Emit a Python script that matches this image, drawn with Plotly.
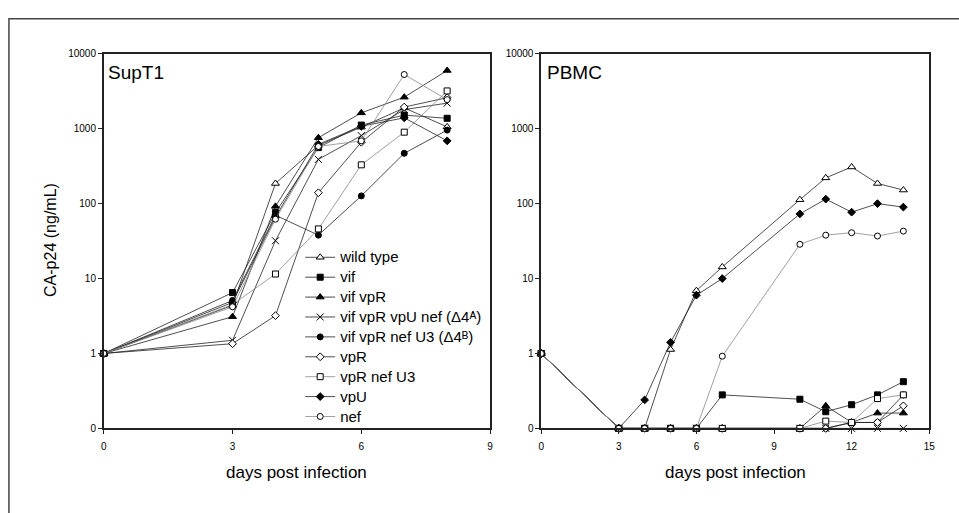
import plotly.graph_objects as go

W, H = 959, 513

# ---------------- data ----------------
days_supt1 = [0, 3, 4, 5, 6, 7, 8]
days_pbmc = [0, 3, 4, 5, 6, 7, 10, 11, 12, 13, 14]

series_names = [
    "wild type", "vif", "vif vpR", "vif vpR vpU nef (\u03944\u1d2c)",
    "vif vpR nef U3 (\u03944\u1d2e)", "vpR", "vpR nef U3", "vpU", "nef",
]

# SupT1 (ng/mL); values of 0 shown at 0.1 on the log axis
supt1_wild_type = [1, 4.4, 186, 600, 1050, 1900, 1060]
supt1_vif = [1, 6.5, 76, 560, 1120, 1520, 1380]
supt1_vif_vpR = [1, 3.1, 92, 760, 1630, 2640, 6000]
supt1_d4A = [1, 1.5, 32, 390, 810, 1800, 2200]
supt1_d4B = [1, 5.1, 70, 38, 127, 470, 960]
supt1_vpR = [1, 1.35, 3.2, 140, 660, 1950, 2600]
supt1_vpR_nef_U3 = [1, 4.5, 11.5, 46, 330, 900, 3200]
supt1_vpU = [1, 4.8, 66, 620, 1080, 1400, 690]
supt1_nef = [1, 4.2, 62, 580, 690, 5300, 2450]

# PBMC (ng/mL); 0.1 plotted where reference shows "0"
pbmc_wild_type = [1, 0.1, 0.1, 1.13, 6.9, 14.3, 113, 221, 309, 186, 152]
pbmc_vif = [1, 0.1, 0.1, 0.1, 0.1, 0.28, 0.245, 0.167, 0.207, 0.28, 0.42]
pbmc_vif_vpR = [1, 0.1, 0.1, 0.1, 0.1, 0.1, 0.1, 0.2, 0.12, 0.16, 0.16]
pbmc_d4A = [1, 0.1, 0.1, 0.1, 0.1, 0.1, 0.1, 0.1, 0.1, 0.1, 0.1]
pbmc_d4B = [1, 0.1, 0.1, 0.1, 0.1, 0.1, 0.1, 0.1, 0.12, 0.12, 0.28]
pbmc_vpR = [1, 0.1, 0.1, 0.1, 0.1, 0.1, 0.1, 0.1, 0.12, 0.12, 0.2]
pbmc_vpR_nef_U3 = [1, 0.1, 0.1, 0.1, 0.1, 0.1, 0.1, 0.125, 0.12, 0.25, 0.28]
pbmc_vpU = [1, 0.1, 0.24, 1.41, 6.0, 10, 73, 115, 77, 100, 90]
pbmc_nef = [1, 0.1, 0.1, 0.1, 0.1, 0.92, 28.7, 38, 41, 37, 43]

supt1_values = [supt1_wild_type, supt1_vif, supt1_vif_vpR, supt1_d4A, supt1_d4B,
                supt1_vpR, supt1_vpR_nef_U3, supt1_vpU, supt1_nef]
pbmc_values = [pbmc_wild_type, pbmc_vif, pbmc_vif_vpR, pbmc_d4A, pbmc_d4B,
               pbmc_vpR, pbmc_vpR_nef_U3, pbmc_vpU, pbmc_nef]

y_tickvals = [0.1, 1, 10, 100, 1000, 10000]
y_ticktext = ["0", "1", "10", "100", "1000", "10000"]
x_ticks_supt1 = [0, 3, 6, 9]
x_ticks_pbmc = [0, 3, 6, 9, 12, 15]

# ---------------- styles ----------------
styles = [
    dict(symbol="triangle-up", color="white", lc="#222"),
    dict(symbol="square", color="black", lc="#222"),
    dict(symbol="triangle-up", color="black", lc="#222"),
    dict(symbol="x-thin", color="black", lc="#222"),
    dict(symbol="circle", color="black", lc="#222"),
    dict(symbol="diamond", color="white", lc="#222"),
    dict(symbol="square", color="white", lc="#888"),
    dict(symbol="diamond", color="black", lc="#222"),
    dict(symbol="circle", color="white", lc="#888"),
]

fig = go.Figure()

def add_series(xs, ys, name, st, xaxis, yaxis, showlegend):
    sym = st["symbol"]
    if sym == "x-thin":
        marker = dict(symbol=sym, size=7, line=dict(color="black", width=1))
    else:
        marker = dict(symbol=sym, size=7 if "triangle" in sym else 6,
                      color=st["color"], line=dict(color="black", width=1))
    fig.add_trace(go.Scatter(
        x=xs, y=ys, name='<span style="font-size:15px">' + name + '</span>',
        mode="lines+markers",
        line=dict(color=st["lc"], width=0.8),
        marker=marker, xaxis=xaxis, yaxis=yaxis,
        showlegend=showlegend, cliponaxis=False,
    ))

for name, ys, st in zip(series_names, supt1_values, styles):
    add_series(days_supt1, ys, name, st, "x", "y", True)
for name, ys, st in zip(series_names, pbmc_values, styles):
    add_series(days_pbmc, ys, name, st, "x2", "y2", False)

def px_x(p):
    return p / W

def px_y(p):
    return 1 - p / H

yd = [px_y(432.5), px_y(49)]
axis_common = dict(showline=True, linecolor="#222", linewidth=1.5, mirror=True,
                   ticks="outside", ticklen=4, tickcolor="#222", showgrid=False,
                   zeroline=False,
                   tickfont=dict(family="Liberation Sans Narrow, Liberation Sans, Arial", size=10, color="black"))

fig.update_layout(
    width=W, height=H,
    margin=dict(l=0, r=0, t=0, b=0),
    paper_bgcolor="white", plot_bgcolor="white",
    font=dict(family="Liberation Sans, Arial", color="black"),
    xaxis=dict(domain=[px_x(101.7), px_x(491.7)], range=[0, 9], tickvals=x_ticks_supt1,
               anchor="y", ticklabelstandoff=4, **axis_common),
    yaxis=dict(domain=yd, type="log", range=[-1, 4], tickvals=y_tickvals,
               ticktext=y_ticktext, anchor="x", **axis_common),
    xaxis2=dict(domain=[px_x(543.3), px_x(935)], range=[0, 15], tickvals=x_ticks_pbmc,
                anchor="y2", ticklabelstandoff=4, **axis_common),
    yaxis2=dict(domain=yd, type="log", range=[-1, 4], tickvals=y_tickvals,
                ticktext=y_ticktext, anchor="x2", **axis_common),
    legend=dict(x=px_x(300), y=px_y(242), xanchor="left", yanchor="top",
                bgcolor="rgba(0,0,0,0)", font=dict(size=13, family="Liberation Sans, DejaVu Sans, Arial"),
                tracegroupgap=0, itemwidth=30),
    showlegend=True,
)

# outer frame
fig.add_shape(type="rect", xref="paper", yref="paper",
              x0=px_x(6), x1=1.05, y0=-0.05, y1=px_y(13),
              line=dict(color="#444", width=1.5), fillcolor="rgba(0,0,0,0)")

annos = [
    dict(text="SupT1", x=px_x(104), y=px_y(68), xanchor="left", yanchor="middle", size=19),
    dict(text="PBMC", x=px_x(547), y=px_y(68), xanchor="left", yanchor="middle", size=19),
    dict(text="days post infection", x=px_x(296), y=px_y(478), xanchor="center", yanchor="middle", size=17),
    dict(text="days post infection", x=px_x(739), y=px_y(478), xanchor="center", yanchor="middle", size=17),
]
for a in annos:
    fig.add_annotation(text=a["text"], x=a["x"], y=a["y"], xref="paper", yref="paper",
                       xanchor=a["xanchor"], yanchor=a["yanchor"], showarrow=False,
                       font=dict(size=a["size"], family="Liberation Sans, Arial", color="black"))
fig.add_annotation(text="CA-p24 (ng/mL)", x=px_x(48), y=px_y(240), xref="paper", yref="paper",
                   textangle=-90, showarrow=False, xanchor="center", yanchor="middle",
                   font=dict(size=16, family="Liberation Sans, Arial", color="black"))

fig.write_html("out.html")
